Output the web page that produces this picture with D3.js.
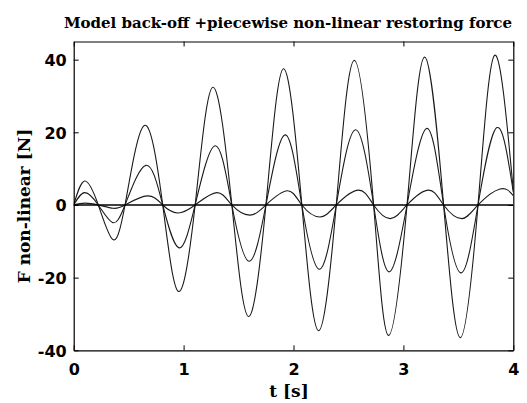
<!DOCTYPE html>
<html>
<head>
<meta charset="utf-8">
<script src="https://cdn.jsdelivr.net/npm/d3@7"></script>
<style>
  html, body { margin: 0; padding: 0; background: #fff; }
  svg { display: block; }
</style>
</head>
<body>
<svg id="chart" width="527" height="403"></svg>
<script>
// Restoring force, three amplitude levels: [time s, force N] at start, peaks, troughs and zero crossings
const forceLarge = [
  [0, 0], [0.1, 6.6], [0.224, 0], [0.352, -9.4], [0.467, 0], [0.643, 21.9], [0.81, 0],
  [0.953, -23.8], [1.105, 0], [1.266, 32.4], [1.439, 0], [1.59, -30.7], [1.749, 0],
  [1.909, 37.5], [2.076, 0], [2.228, -34.6], [2.389, 0], [2.553, 39.8], [2.729, 0],
  [2.865, -35.9], [3.033, 0], [3.193, 40.7], [3.366, 0], [3.518, -36.5], [3.679, 0],
  [3.831, 41.2], [4.0, 4.0]
];
const forceMedium = [
  [0, 0], [0.1, 3.4], [0.224, 0], [0.352, -4.8], [0.467, 0], [0.656, 10.9], [0.81, 0],
  [0.958, -11.8], [1.105, 0], [1.287, 16.3], [1.439, 0], [1.595, -15.5], [1.749, 0],
  [1.924, 19.3], [2.076, 0], [2.235, -17.7], [2.389, 0], [2.565, 20.7], [2.729, 0],
  [2.87, -18.4], [3.033, 0], [3.215, 21.1], [3.366, 0], [3.525, -18.7], [3.679, 0],
  [3.852, 21.3], [4.0, 3.5]
];
const forceSmall = [
  [0, 0], [0.1, 0.5], [0.224, 0], [0.36, -0.9], [0.467, 0], [0.67, 2.5], [0.81, 0],
  [0.945, -2.2], [1.105, 0], [1.302, 3.4], [1.439, 0], [1.6, -2.8], [1.749, 0],
  [1.945, 3.9], [2.076, 0], [2.24, -3.3], [2.389, 0], [2.592, 4.1], [2.729, 0],
  [2.88, -3.75], [3.033, 0], [3.23, 4.1], [3.366, 0], [3.53, -3.75], [3.679, 0],
  [3.88, 4.4], [4.0, 2.6]
];
const xTicks = [0, 1, 2, 3, 4];
const yTicks = [-40, -20, 0, 20, 40];
const xDomain = [0, 4];
const yDomain = [-40, 45];

const titleText = "Model back-off +piecewise non-linear restoring force";
const xLabelText = "t [s]";
const yLabelText = "F non-linear [N]";

const svg = d3.select("#chart");
const plot = { left: 73.7, right: 513.3, top: 41.5, bottom: 350.3 };

const x = d3.scaleLinear().domain(xDomain).range([plot.left, plot.right]);
const y = d3.scaleLinear().domain(yDomain).range([plot.bottom, plot.top]);

svg.append("rect").attr("width", 527).attr("height", 403).attr("fill", "#fff");

// curves
const line = d3.line().x(d => x(d[0])).y(d => y(d[1])).curve(d3.curveNatural);
svg.append("clipPath").attr("id", "plotClip")
  .append("rect").attr("x", plot.left).attr("y", plot.top)
  .attr("width", plot.right - plot.left).attr("height", plot.bottom - plot.top);

const g = svg.append("g").attr("clip-path", "url(#plotClip)");
[forceLarge, forceMedium, forceSmall].forEach(series => {
  g.append("path").datum(series).attr("d", line)
    .attr("fill", "none").attr("stroke", "#1a1a1a").attr("stroke-width", 1.1);
});

// zero reference line
g.append("line")
  .attr("x1", x(xDomain[0])).attr("x2", x(xDomain[1]))
  .attr("y1", y(0)).attr("y2", y(0))
  .attr("stroke", "#000").attr("stroke-width", 1.5);

// axes, ticks pointing inward on all four sides; plain hyphen for negatives
const tickLen = 5;
const fmt = d => String(d);
const fontTick = "'DejaVu Sans', sans-serif";
const axBottom = svg.append("g").attr("transform", `translate(0,${plot.bottom})`)
  .call(d3.axisBottom(x).tickValues(xTicks).tickFormat(fmt).tickSizeInner(-tickLen).tickSizeOuter(0).tickPadding(10));
const axTop = svg.append("g").attr("transform", `translate(0,${plot.top})`)
  .call(d3.axisTop(x).tickValues(xTicks).tickSizeInner(-tickLen).tickSizeOuter(0).tickFormat(""));
const axLeft = svg.append("g").attr("transform", `translate(${plot.left},0)`)
  .call(d3.axisLeft(y).tickValues(yTicks).tickFormat(fmt).tickSizeInner(-tickLen).tickSizeOuter(0).tickPadding(7));
const axRight = svg.append("g").attr("transform", `translate(${plot.right},0)`)
  .call(d3.axisRight(y).tickValues(yTicks).tickSizeInner(-tickLen).tickSizeOuter(0).tickFormat(""));

[axBottom, axTop, axLeft, axRight].forEach(a => {
  a.select(".domain").attr("stroke", "#000").attr("stroke-width", 1.2);
  a.selectAll(".tick line").attr("stroke", "#000").attr("stroke-width", 1);
  a.selectAll(".tick text")
    .attr("fill", "#000")
    .style("font-family", fontTick)
    .style("font-weight", "bold")
    .style("font-size", "16px");
});
axBottom.selectAll(".tick text").attr("dy", "0.95em");
axLeft.selectAll(".tick text").attr("dy", "0.36em");

// title and axis labels
const serif = "'DejaVu Serif', serif";
svg.append("text")
  .attr("x", 288).attr("y", 27.5)
  .attr("text-anchor", "middle")
  .style("font-family", serif).style("font-weight", "bold").style("font-size", "15px")
  .attr("fill", "#000")
  .text(titleText);

svg.append("text")
  .attr("x", 289).attr("y", 397)
  .attr("text-anchor", "middle")
  .style("font-family", serif).style("font-weight", "bold").style("font-size", "17px")
  .attr("fill", "#000")
  .text(xLabelText);

svg.append("text")
  .attr("transform", "translate(30,206) rotate(-90)")
  .attr("text-anchor", "middle")
  .style("font-family", serif).style("font-weight", "bold").style("font-size", "17px")
  .attr("fill", "#000")
  .text(yLabelText);
</script>
</body>
</html>
